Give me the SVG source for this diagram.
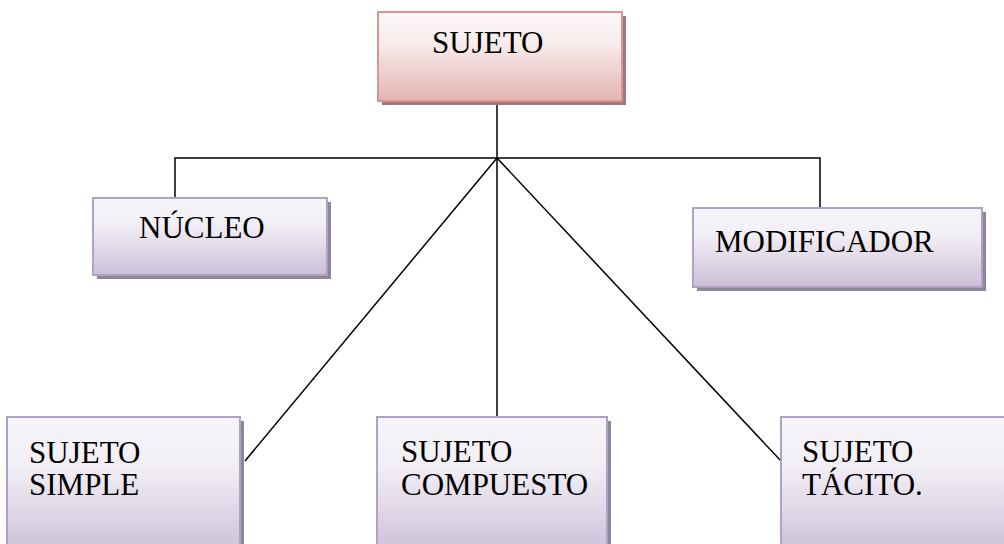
<svg xmlns="http://www.w3.org/2000/svg" width="1004" height="544" viewBox="0 0 1004 544">
<defs>
<linearGradient id="gPink" x1="0" y1="0" x2="0" y2="1">
<stop offset="0" stop-color="#fdf8f8"/>
<stop offset="0.35" stop-color="#f8ecec"/>
<stop offset="1" stop-color="#e4b3b2"/>
</linearGradient>
<linearGradient id="gPurple" x1="0" y1="0" x2="0" y2="1">
<stop offset="0" stop-color="#f7f5f9"/>
<stop offset="0.35" stop-color="#f2eef5"/>
<stop offset="1" stop-color="#cbbfd8"/>
</linearGradient>
</defs>
<style>
.pink{fill:url(#gPink);stroke:#d99594;stroke-width:2}
.pinkSh{fill:#a07878}
.purple{fill:url(#gPurple);stroke:#b2a1c7;stroke-width:2}
.purpleSh{fill:#8e879a}
.lbl{font-family:"Liberation Serif","Times New Roman",serif;font-size:31px;fill:#000}
.conn{stroke:#000;stroke-width:1.5;fill:none}
</style>
<rect width="1004" height="544" fill="#fff"/>
<g id="connectors">
<line class="conn" x1="497" y1="101" x2="497" y2="158"/>
<polyline class="conn" points="175,198 175,158 820,158 820,208"/>
<line class="conn" x1="497" y1="158" x2="245" y2="461"/>
<line class="conn" x1="497" y1="158" x2="497" y2="417"/>
<line class="conn" x1="497" y1="158" x2="781" y2="461"/>
</g>
<g id="sujeto">
<rect class="pinkSh" x="382" y="16" width="244" height="89"/>
<rect class="pink" x="378" y="12" width="244" height="89"/>
<text class="lbl" x="432" y="53">SUJETO</text>
</g>
<g id="nucleo">
<rect class="purpleSh" x="97" y="202" width="234" height="77"/>
<rect class="purple" x="93" y="198" width="234" height="77"/>
<text class="lbl" x="139" y="238">NÚCLEO</text>
</g>
<g id="modificador">
<rect class="purpleSh" x="697" y="212" width="289" height="79"/>
<rect class="purple" x="693" y="208" width="289" height="79"/>
<text class="lbl" x="715" y="252">MODIFICADOR</text>
</g>
<g id="sujeto-simple">
<rect class="purpleSh" x="11" y="421" width="233" height="140"/>
<rect class="purple" x="7" y="417" width="233" height="140"/>
<text class="lbl" x="29" y="463">SUJETO</text>
<text class="lbl" x="29" y="495">SIMPLE</text>
</g>
<g id="sujeto-compuesto">
<rect class="purpleSh" x="381" y="421" width="230" height="140"/>
<rect class="purple" x="377" y="417" width="230" height="140"/>
<text class="lbl" x="401" y="462">SUJETO</text>
<text class="lbl" x="401" y="495">COMPUESTO</text>
</g>
<g id="sujeto-tacito">
<rect class="purpleSh" x="785" y="421" width="240" height="140"/>
<rect class="purple" x="781" y="417" width="240" height="140"/>
<text class="lbl" x="802" y="462">SUJETO</text>
<text class="lbl" x="802" y="495">TÁCITO.</text>
</g>
</svg>
